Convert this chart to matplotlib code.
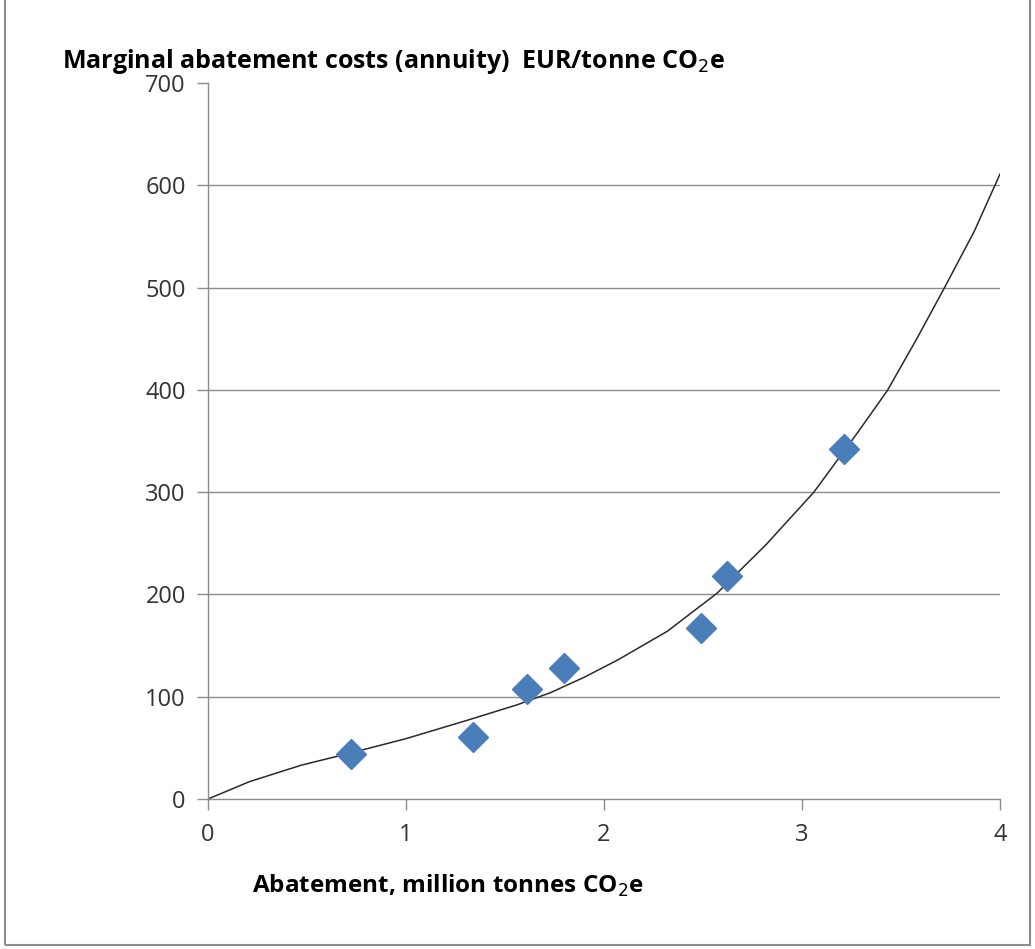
import matplotlib
matplotlib.use('Agg')
import matplotlib.pyplot as plt
from matplotlib.patches import Rectangle

# abatement (million t CO2e) vs marginal cost (EUR/t CO2e)
abatement = [0.72, 1.34, 1.61, 1.80, 2.49, 2.62, 3.21]
cost      = [44, 61, 108, 128, 167, 218, 342]

# trend line
trend_x = [0.0, 0.21, 0.47, 0.72, 1.00, 1.31, 1.56, 1.73, 1.90, 2.07, 2.32, 2.57,
           2.82, 3.06, 3.28, 3.43, 3.58, 3.72, 3.87, 4.0]
trend_y = [0, 17, 33, 45, 59, 77, 92, 104, 119, 136, 164, 201,
           249, 300, 358, 399, 450, 500, 555, 611]

x_ticks = [0, 1, 2, 3, 4]
y_ticks = [0, 100, 200, 300, 400, 500, 600, 700]

W, H = 1035, 949
fig = plt.figure(figsize=(W / 100, H / 100), dpi=100)
ax = fig.add_axes([208 / W, 1 - 799 / H, 792 / W, 716 / H])

grid_col = '#8c8c8c'
for yv in y_ticks[1:-1]:
    ax.axhline(yv, color=grid_col, lw=1.0, zorder=0)

ax.plot(trend_x, trend_y, color='#2a2a2a', lw=1.1, zorder=2)
ax.plot(abatement, cost, 'D', color='#4a7ebb', markersize=15, mec='#4a7ebb', zorder=3)

ax.set_xlim(0, 4)
ax.set_ylim(0, 700)
ax.set_xticks(x_ticks)
ax.set_yticks(y_ticks)
for s in ['top', 'right']:
    ax.spines[s].set_visible(False)
for s in ['left', 'bottom']:
    ax.spines[s].set_color(grid_col)
    ax.spines[s].set_linewidth(1.0)
ax.tick_params(direction='out', length=8, width=1.0, color=grid_col,
               labelsize=17, labelcolor='#333333', pad=8)
for lbl in ax.get_xticklabels() + ax.get_yticklabels():
    lbl.set_family('Open Sans')
ax.tick_params(axis='x', pad=9)

fig.text(62 / W, 1 - 68 / H, 'Marginal abatement costs (annuity)  EUR/tonne CO$_2$e',
         fontsize=18, fontweight='bold', family='Open Sans', ha='left', va='baseline')
fig.text(252 / W, 1 - 893 / H, 'Abatement, million tonnes CO$_2$e',
         fontsize=17.5, fontweight='bold', family='Open Sans', ha='left', va='baseline')

fig.patches.append(Rectangle((5 / W, 4 / H), 1025 / W, 1.2, transform=fig.transFigure,
                             fill=False, edgecolor='#8c8c8c', lw=1.5))

fig.savefig('out.png', dpi=100)
